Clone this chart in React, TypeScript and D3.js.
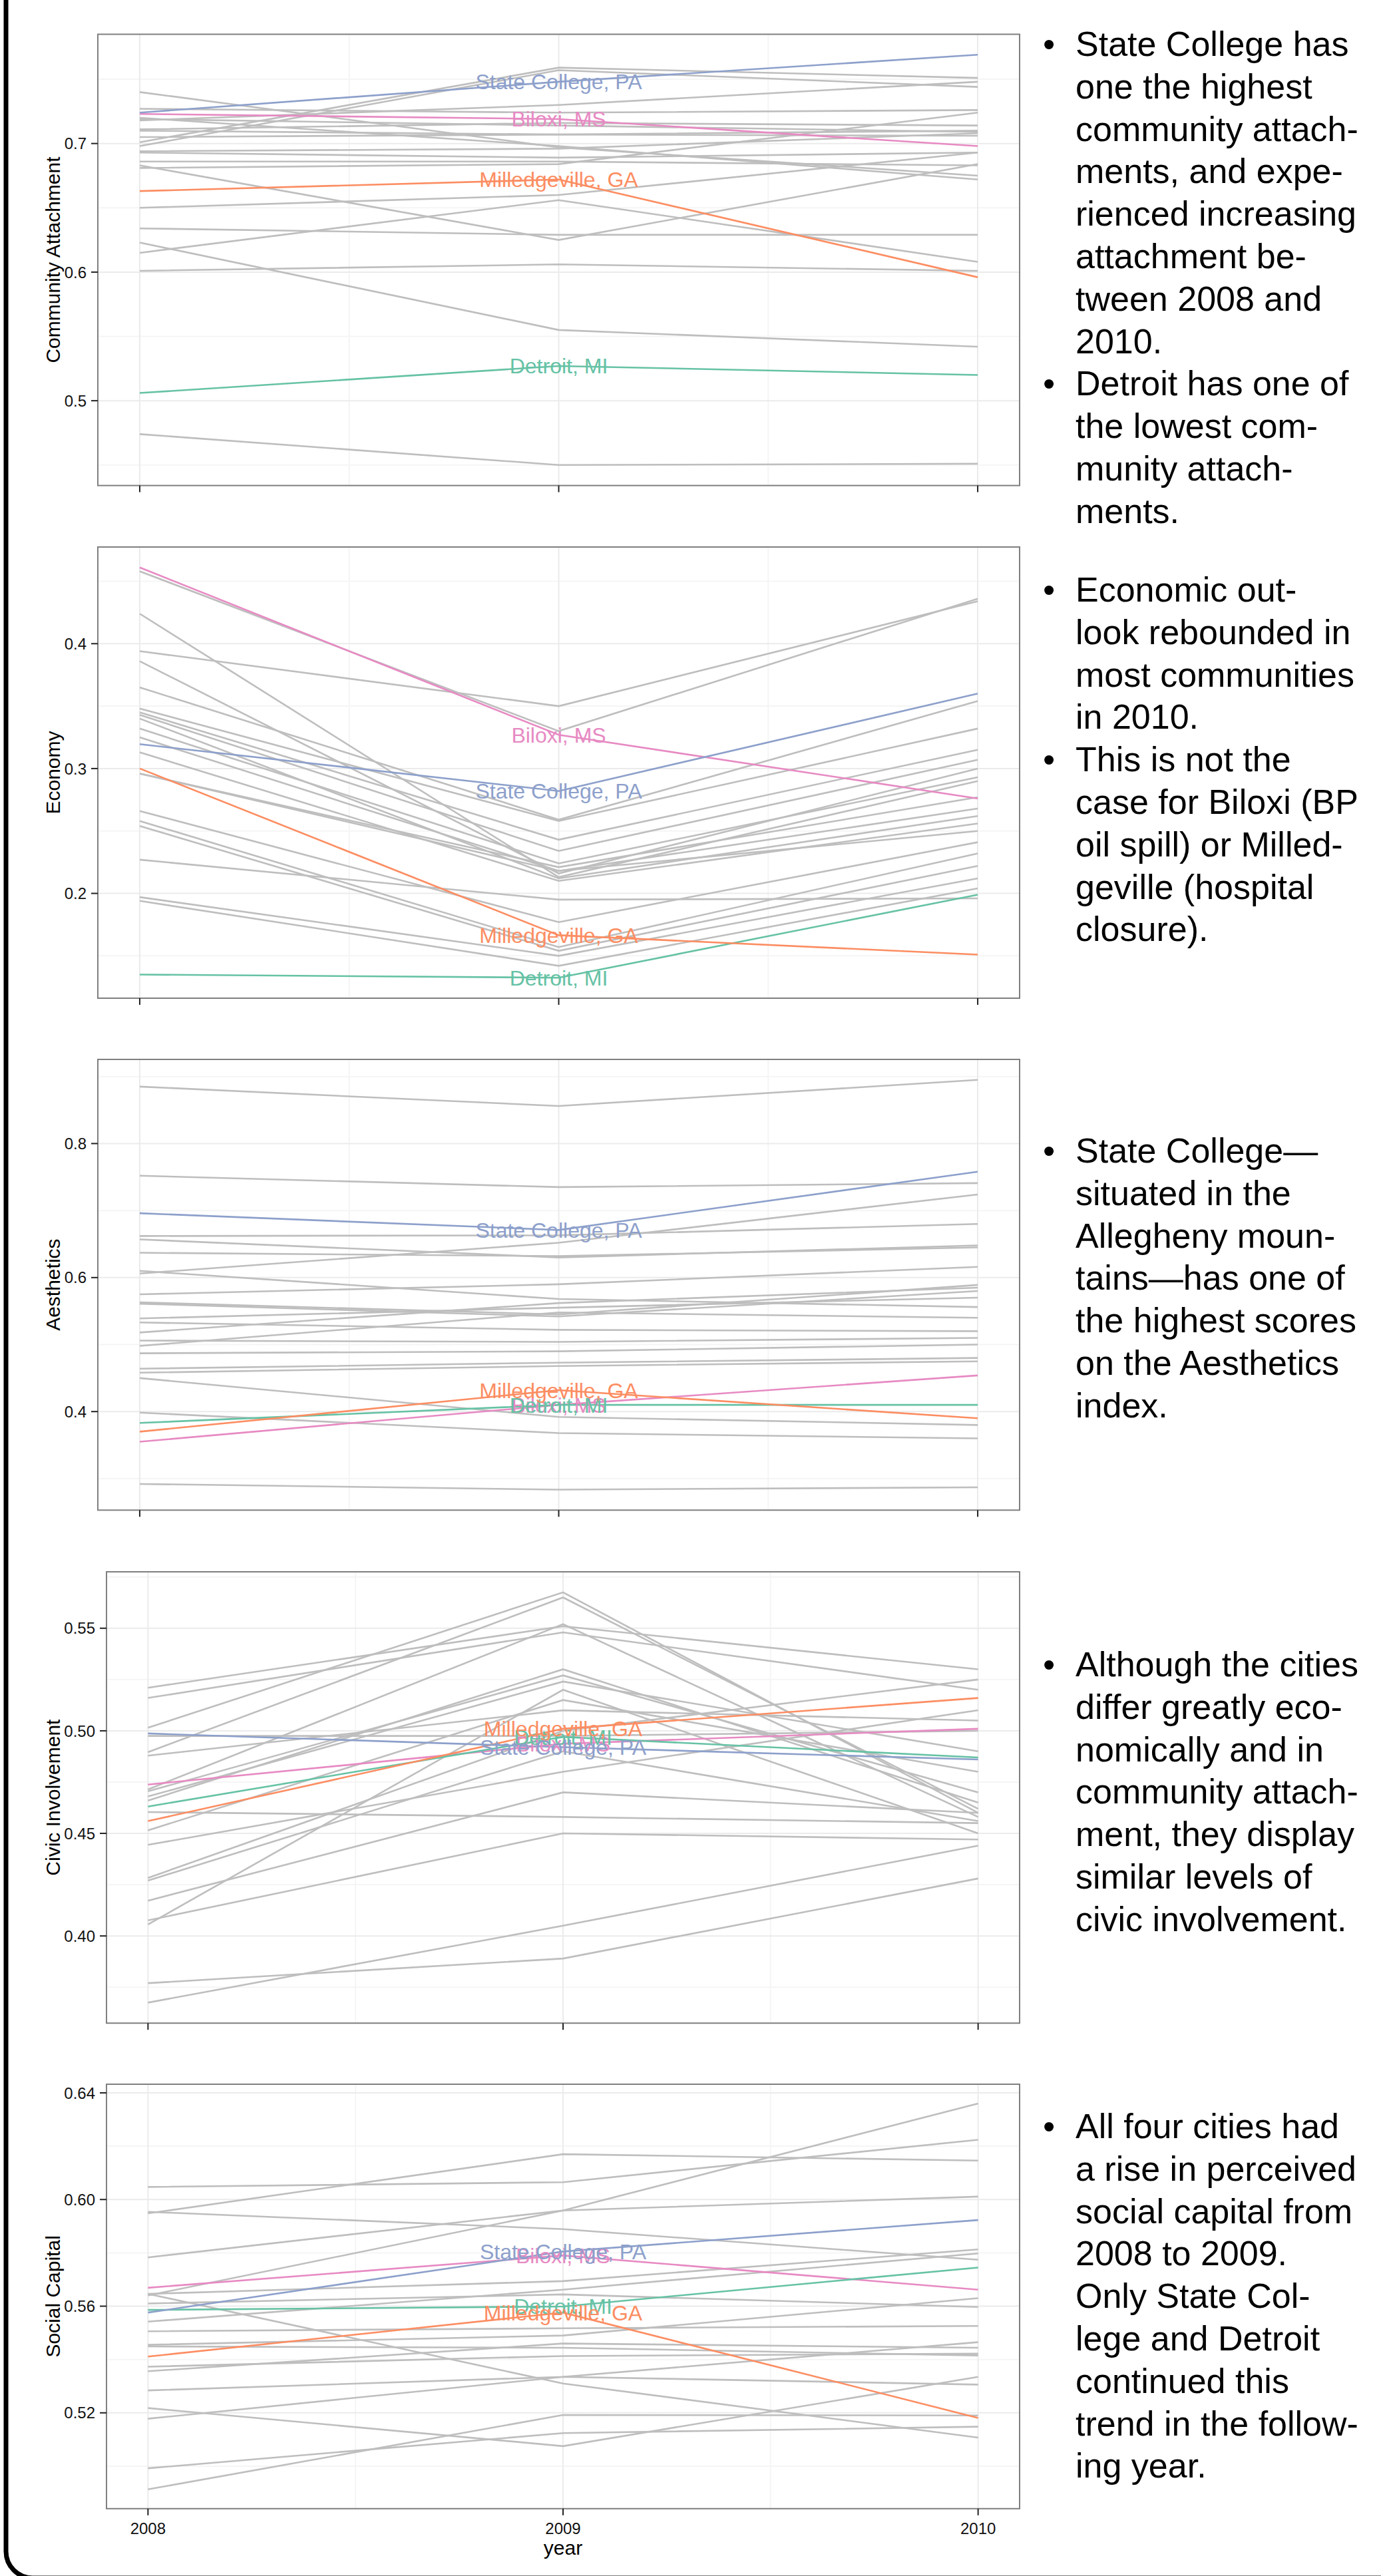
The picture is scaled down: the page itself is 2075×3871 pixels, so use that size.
import * as d3 from 'd3';

const years = [2008, 2009, 2010];

// highlighted cities, drawn in this order (alphabetical, as ggplot does)
const cities = ['Biloxi, MS', 'Detroit, MI', 'Milledgeville, GA', 'State College, PA'];
const cityColors = ['#e78ac3', '#66c2a5', '#fc8d62', '#8da0cb'];

// Community Attachment
const attachmentOthers = [
  [0.740, 0.697, 0.675], [0.727, 0.724, 0.726], [0.719, 0.714, 0.709], [0.718, 0.730, 0.748],
  [0.711, 0.716, 0.714], [0.710, 0.707, 0.706], [0.705, 0.707, 0.710], [0.701, 0.759, 0.751],
  [0.698, 0.757, 0.744], [0.694, 0.696, 0.708], [0.693, 0.689, 0.693], [0.686, 0.686, 0.683],
  [0.683, 0.625, 0.684], [0.681, 0.684, 0.724], [0.720, 0.698, 0.672], [0.650, 0.660, 0.693],
  [0.634, 0.629, 0.629], [0.623, 0.555, 0.542], [0.615, 0.656, 0.608], [0.601, 0.606, 0.601],
  [0.474, 0.450, 0.451],
];
const attachmentCities = [
  [0.723, 0.719, 0.698], [0.506, 0.527, 0.520], [0.663, 0.672, 0.596], [0.724, 0.748, 0.769],
];

// Economy
const economyOthers = [
  [0.458, 0.330, 0.436], [0.394, 0.350, 0.434], [0.424, 0.213, 0.290], [0.386, 0.216, 0.300],
  [0.365, 0.259, 0.354], [0.348, 0.258, 0.332], [0.345, 0.243, 0.315], [0.343, 0.234, 0.307],
  [0.332, 0.224, 0.293], [0.325, 0.218, 0.268], [0.313, 0.210, 0.256], [0.296, 0.218, 0.250],
  [0.340, 0.212, 0.262], [0.266, 0.177, 0.241], [0.258, 0.157, 0.232], [0.254, 0.154, 0.222],
  [0.227, 0.195, 0.196], [0.197, 0.150, 0.212], [0.194, 0.142, 0.204], [0.296, 0.221, 0.277],
];
const economyCities = [
  [0.461, 0.327, 0.276], [0.135, 0.1325, 0.199], [0.300, 0.1665, 0.151], [0.3195, 0.282, 0.360],
];

// Aesthetics
const aestheticsOthers = [
  [0.885, 0.856, 0.895], [0.752, 0.735, 0.741], [0.662, 0.663, 0.680], [0.657, 0.630, 0.648],
  [0.637, 0.632, 0.645], [0.606, 0.652, 0.724], [0.610, 0.568, 0.556], [0.575, 0.590, 0.616],
  [0.563, 0.545, 0.589], [0.561, 0.542, 0.580], [0.539, 0.555, 0.570], [0.533, 0.522, 0.520],
  [0.518, 0.562, 0.585], [0.506, 0.504, 0.510], [0.498, 0.548, 0.540], [0.487, 0.490, 0.500],
  [0.464, 0.473, 0.480], [0.458, 0.468, 0.475], [0.450, 0.392, 0.380], [0.3985, 0.368, 0.360],
  [0.292, 0.2835, 0.287],
];
const aestheticsCities = [
  [0.355, 0.410, 0.454], [0.383, 0.410, 0.410], [0.370, 0.432, 0.390], [0.696, 0.671, 0.758],
];

// Civic Involvement
const civicOthers = [
  [0.521, 0.551, 0.530], [0.516, 0.548, 0.520], [0.5015, 0.5675, 0.460], [0.4975, 0.4975, 0.500],
  [0.4896, 0.565, 0.462], [0.4879, 0.510, 0.505], [0.4714, 0.552, 0.458], [0.4705, 0.527, 0.470],
  [0.468, 0.524, 0.490], [0.466, 0.530, 0.465], [0.4604, 0.458, 0.455], [0.4515, 0.515, 0.480],
  [0.4444, 0.480, 0.510], [0.4283, 0.500, 0.525], [0.427, 0.490, 0.456], [0.4172, 0.470, 0.460],
  [0.4076, 0.450, 0.447], [0.4056, 0.520, 0.450], [0.377, 0.389, 0.428], [0.3675, 0.405, 0.444],
];
const civicCities = [
  [0.4738, 0.4937, 0.501], [0.4631, 0.497, 0.487], [0.456, 0.501, 0.516], [0.4987, 0.492, 0.486],
];

// Social Capital
const socialOthers = [
  [0.6047, 0.6065, 0.6224], [0.5948, 0.617, 0.6146], [0.5954, 0.5889, 0.5774], [0.5783, 0.5959, 0.6011],
  [0.564, 0.5959, 0.636], [0.5646, 0.5694, 0.5813], [0.561, 0.5644, 0.5597], [0.5542, 0.5662, 0.5798],
  [0.5506, 0.5517, 0.5526], [0.5455, 0.549, 0.563], [0.5449, 0.5444, 0.5415], [0.5373, 0.5413, 0.5422],
  [0.5356, 0.546, 0.5444], [0.5646, 0.531, 0.5107], [0.5284, 0.5335, 0.5465], [0.5218, 0.5075, 0.5335],
  [0.5178, 0.5335, 0.5306], [0.4992, 0.5124, 0.5148], [0.4913, 0.5192, 0.519],
];
const socialCities = [
  [0.5669, 0.579, 0.5662], [0.5586, 0.5599, 0.5745], [0.5411, 0.5576, 0.5181], [0.5576, 0.5805, 0.5923],
];

const titles = ['Community Attachment', 'Economy', 'Aesthetics', 'Civic Involvement', 'Social Capital'];
const yTicks = [
  [0.5, 0.6, 0.7],
  [0.2, 0.3, 0.4],
  [0.4, 0.6, 0.8],
  [0.40, 0.45, 0.50, 0.55],
  [0.52, 0.56, 0.60, 0.64],
];
const tickFormats = ['.1f', '.1f', '.1f', '.2f', '.2f'];
const othersByPanel = [attachmentOthers, economyOthers, aestheticsOthers, civicOthers, socialOthers];
const citiesByPanel = [attachmentCities, economyCities, aestheticsCities, civicCities, socialCities];

const notes = [
  [
    ['State College has', 'one the highest', 'community attach-', 'ments, and expe-', 'rienced increasing', 'attachment be-', 'tween 2008 and', '2010.'],
    ['Detroit has one of', 'the lowest com-', 'munity attach-', 'ments.'],
  ],
  [
    ['Economic out-', 'look rebounded in', 'most communities', 'in 2010.'],
    ['This is not the', 'case for Biloxi (BP', 'oil spill) or Milled-', 'geville (hospital', 'closure).'],
  ],
  [
    ['State College\u2014', 'situated in the', 'Allegheny moun-', 'tains\u2014has one of', 'the highest scores', 'on the Aesthetics', 'index.'],
  ],
  [
    ['Although the cities', 'differ greatly eco-', 'nomically and in', 'community attach-', 'ment, they display', 'similar levels of', 'civic involvement.'],
  ],
  [
    ['All four cities had', 'a rise in perceived', 'social capital from', '2008 to 2009.', 'Only State Col-', 'lege and Detroit', 'continued this', 'trend in the follow-', 'ing year.'],
  ],
];

// layout
const W = 2075;
const H = 3871;
const panelTops = [51.5, 822, 1592, 2362, 3132];
const panelBottoms = [729.6, 1500, 2269.3, 3040.2, 3769.8];
const panelLefts = [147, 147, 147, 160, 160];
const panelRight = 1532;
const noteTops = [84, 904, 1747, 2519, 3213];
const lineGap = 63.8;
const FONT = '"Liberation Sans", Arial, Helvetica, sans-serif';

function Panel({ idx }: { idx: number }) {
  const others = othersByPanel[idx];
  const highlighted = citiesByPanel[idx];
  const left = panelLefts[idx];
  const top = panelTops[idx];
  const bottom = panelBottoms[idx];
  const isLast = idx === 4;

  const x = d3.scaleLinear().domain([2008, 2010]).range([0, 1]);
  const xs = d3.scaleLinear()
    .domain([2008 - 0.1, 2010 + 0.1])
    .range([left, panelRight]);

  const all = [...others, ...highlighted].flat();
  const [lo, hi] = d3.extent(all) as [number, number];
  const pad = (hi - lo) * 0.05;
  const y = d3.scaleLinear().domain([lo - pad, hi + pad]).range([bottom, top]);

  const line = d3.line<number>()
    .x((_, i) => xs(years[i]))
    .y((d) => y(d));

  const ticks = yTicks[idx];
  const step = ticks[1] - ticks[0];
  const minor: number[] = [];
  for (let v = ticks[0] - step / 2; v <= hi + pad; v += step) {
    if (v >= lo - pad) minor.push(v);
  }
  const fmt = d3.format(tickFormats[idx]);
  const yearMinor = [2008.5, 2009.5];
  void x;

  return (
    <g>
      <rect x={left} y={top} width={panelRight - left} height={bottom - top} fill="#fff" />
      {minor.map((v) => (
        <line key={'mn' + v} x1={left} x2={panelRight} y1={y(v)} y2={y(v)} stroke="#f5f5f5" strokeWidth={2} />
      ))}
      {yearMinor.map((v) => (
        <line key={'vx' + v} x1={xs(v)} x2={xs(v)} y1={top} y2={bottom} stroke="#f5f5f5" strokeWidth={2} />
      ))}
      {ticks.map((v) => (
        <line key={'mj' + v} x1={left} x2={panelRight} y1={y(v)} y2={y(v)} stroke="#ebebeb" strokeWidth={2} />
      ))}
      {years.map((v) => (
        <line key={'vy' + v} x1={xs(v)} x2={xs(v)} y1={top} y2={bottom} stroke="#ebebeb" strokeWidth={2} />
      ))}
      {others.map((d, i) => (
        <path key={'o' + i} d={line(d) || ''} fill="none" stroke="#bebebe" strokeWidth={2.6} />
      ))}
      {highlighted.map((d, i) => (
        <path key={'c' + i} d={line(d) || ''} fill="none" stroke={cityColors[i]} strokeWidth={2.6} />
      ))}
      {highlighted.map((d, i) => (
        <text
          key={'l' + i}
          x={xs(2009)}
          y={y(d[1])}
          dy="0.36em"
          textAnchor="middle"
          fontSize={32}
          fontFamily={FONT}
          fill={cityColors[i]}
        >
          {cities[i]}
        </text>
      ))}
      <rect x={left} y={top} width={panelRight - left} height={bottom - top} fill="none" stroke="#7f7f7f" strokeWidth={2} />
      {ticks.map((v) => (
        <g key={'t' + v}>
          <line x1={left - 10} x2={left} y1={y(v)} y2={y(v)} stroke="#222" strokeWidth={2} />
          <text x={left - 17} y={y(v)} dy="0.36em" textAnchor="end" fontSize={24} fontFamily={FONT} fill="#111">
            {fmt(v)}
          </text>
        </g>
      ))}
      {years.map((v) => (
        <g key={'xt' + v}>
          <line x1={xs(v)} x2={xs(v)} y1={bottom} y2={bottom + 10} stroke="#222" strokeWidth={2} />
          {isLast && (
            <text x={xs(v)} y={bottom + 38} textAnchor="middle" fontSize={24} fontFamily={FONT} fill="#111">
              {v}
            </text>
          )}
        </g>
      ))}
      <text
        transform={`translate(90,${(top + bottom) / 2}) rotate(-90)`}
        textAnchor="middle"
        fontSize={30}
        fontFamily={FONT}
        fill="#000"
      >
        {titles[idx]}
      </text>
      {isLast && (
        <text x={xs(2009)} y={bottom + 69} textAnchor="middle" fontSize={30} fontFamily={FONT} fill="#000">
          year
        </text>
      )}
    </g>
  );
}

function Notes({ idx }: { idx: number }) {
  let row = 0;
  const out: JSX.Element[] = [];
  notes[idx].forEach((bullet, b) => {
    bullet.forEach((txt, j) => {
      const yy = noteTops[idx] + row * lineGap;
      if (j === 0) {
        out.push(
          <text key={`b${b}`} x={1567} y={yy} fontSize={52} fontFamily={FONT} fill="#000">
            {'\u2022'}
          </text>
        );
      }
      out.push(
        <text key={`t${b}-${j}`} x={1616} y={yy} fontSize={52} fontFamily={FONT} fill="#000">
          {txt}
        </text>
      );
      row++;
    });
  });
  return <g>{out}</g>;
}

export default function App() {
  return (
    <svg
      width={W}
      height={H}
      viewBox={`0 0 ${W} ${H}`}
      style={{ position: 'absolute', left: 0, top: 0, display: 'block', background: '#fff' }}
    >
      <rect x={0} y={0} width={W} height={H} fill="#fff" />
      <rect x={9} y={-200} width={W + 200} height={H + 200 + 3} rx={40} ry={40} fill="none" stroke="#000" strokeWidth={7} />
      {titles.map((_, i) => (
        <g key={i}>
          <Panel idx={i} />
          <Notes idx={i} />
        </g>
      ))}
    </svg>
  );
}
